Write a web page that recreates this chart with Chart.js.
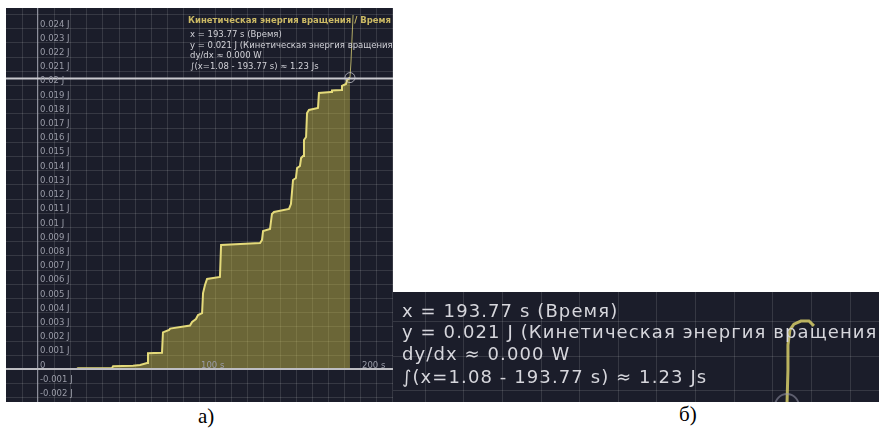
<!DOCTYPE html>
<html lang="ru">
<head>
<meta charset="utf-8">
<title>Кинетическая энергия вращения / Время</title>
<script src="https://cdn.jsdelivr.net/npm/chart.js@4.4.1/dist/chart.umd.min.js"></script>
<style>
  html, body { margin: 0; padding: 0; background: #fff; }
  body { position: relative; width: 879px; height: 430px; overflow: hidden; }
  canvas { position: absolute; display: block; }
  #plotA { left: 6px; top: 8px; }
  #plotB { left: 393px; top: 292px; }
  .cap { position: absolute; font-family: "Liberation Serif", "Times New Roman", serif;
         font-size: 21px; color: #000; line-height: 1; }
</style>
</head>
<body>
<canvas id="plotA" width="387" height="394"></canvas>
<canvas id="plotB" width="486" height="110"></canvas>
<div class="cap" style="left:198px; top:406px;">а)</div>
<div class="cap" style="left:679px; top:404px;">б)</div>
<script>
// Rotational kinetic energy over time, recorded up to the cursor
const timeS = [1.08, 24.2, 24.8, 46.0, 46.6, 59.0, 63.4, 67.7, 68.3, 77.0, 77.6, 81.4, 82.0,
  94.4, 95.7, 98.1, 99.4, 101.9, 102.5, 103.7, 105.0, 113.0, 113.7, 137.9, 139.1, 139.8,
  144.1, 145.3, 146.6, 155.9, 157.1, 158.4, 160.2, 160.9, 162.7, 163.4, 164.6, 165.2, 166.5,
  167.1, 168.3, 173.9, 174.5, 182.0, 182.6, 188.2, 188.8, 191.3, 191.9, 193.77];
const energyJ = [0.00001, 0.00001, 0.00005, 0.00007, 0.00019, 0.00023, 0.00028, 0.00042,
  0.00111, 0.00114, 0.00258, 0.00275, 0.00285, 0.00306, 0.00331, 0.00352, 0.00380, 0.00394,
  0.00535, 0.00592, 0.00634, 0.00648, 0.00873, 0.00887, 0.00908, 0.00972, 0.00986, 0.01092,
  0.01106, 0.01127, 0.01162, 0.01331, 0.01345, 0.01415, 0.01430, 0.01486, 0.01500, 0.01613,
  0.01634, 0.01803, 0.01824, 0.01838, 0.01944, 0.01951, 0.01961, 0.01965, 0.01993, 0.02007,
  0.02035, 0.02052];

// Trace continuing past the cursor
const tailTimeS = [193.77, 194.4, 195.0, 195.7];
const tailEnergyJ = [0.02052, 0.02162, 0.02317, 0.02493];

// Enlarged readout: trace right at the cursor
const insetTimeS = [193.77, 194.03, 194.03, 194.55, 195.58, 197.39, 199.46, 200.76];
const insetEnergyJ = [0.02052, 0.02158, 0.02231, 0.02275, 0.02292, 0.02301, 0.02301, 0.02287];

const cursorTime = 193.77;
const cursorEnergy = 0.02052;

const yTickValues = [-0.002, -0.001, 0, 0.001, 0.002, 0.003, 0.004, 0.005, 0.006, 0.007, 0.008,
  0.009, 0.010, 0.011, 0.012, 0.013, 0.014, 0.015, 0.016, 0.017, 0.018, 0.019, 0.020, 0.021,
  0.022, 0.023, 0.024];
const yTickLabels = ['-0.002 J', '-0.001 J', '0', '0.001 J', '0.002 J', '0.003 J', '0.004 J',
  '0.005 J', '0.006 J', '0.007 J', '0.008 J', '0.009 J', '0.01 J', '0.011 J', '0.012 J',
  '0.013 J', '0.014 J', '0.015 J', '0.016 J', '0.017 J', '0.018 J', '0.019 J', '0.02 J',
  '0.021 J', '0.022 J', '0.023 J', '0.024 J'];
const xTickValues = [100, 200];
const xTickLabels = ['100 s', '200 s'];

const titleText = 'Кинетическая энергия вращения / Время';
const readoutLines = [
  'x = 193.77 s (Время)',
  'y = 0.021 J (Кинетическая энергия вращения)',
  'dy/dx ≈ 0.000 W',
  '∫(x=1.08 - 193.77 s) ≈ 1.23 Js'
];

const FONT = '"DejaVu Sans", Verdana, sans-serif';
const BG = '#1b1d2a';
const GRID = 'rgba(255,255,255,0.12)';
const TRACE = '#e4da7a';
const FILL = 'rgba(206,194,72,0.45)';

const pts = (xs, ys) => xs.map((x, i) => ({ x, y: ys[i] }));

// Dark backdrop with a 10 s / 1 mJ grid
const backdrop = {
  id: 'backdrop',
  beforeDatasetsDraw(chart) {
    const { ctx, width, height, scales: { x, y } } = chart;
    ctx.save();
    ctx.fillStyle = BG;
    ctx.fillRect(0, 0, width, height);
    ctx.strokeStyle = GRID;
    ctx.lineWidth = 1;
    ctx.beginPath();
    for (let t = Math.ceil(x.min / 10) * 10; t <= x.max; t += 10) {
      const px = Math.round(x.getPixelForValue(t)) + 0.5;
      ctx.moveTo(px, 0); ctx.lineTo(px, height);
    }
    for (let k = Math.ceil(y.min * 1000); k <= y.max * 1000; k++) {
      const py = Math.round(y.getPixelForValue(k / 1000)) + 0.5;
      ctx.moveTo(0, py); ctx.lineTo(width, py);
    }
    ctx.stroke();
    ctx.restore();
  }
};

// Axes, cursor, tick labels and readout of the main plot
const overlayA = {
  id: 'overlayA',
  afterDatasetsDraw(chart) {
    const { ctx, width, height, scales: { x, y } } = chart;
    const x0 = x.getPixelForValue(0), y0 = y.getPixelForValue(0);
    const cx = x.getPixelForValue(cursorTime), cy = y.getPixelForValue(cursorEnergy);
    ctx.save();
    // y axis
    ctx.strokeStyle = 'rgba(170,172,185,0.8)';
    ctx.lineWidth = 1;
    ctx.beginPath(); ctx.moveTo(Math.round(x0) - 0.5, 0); ctx.lineTo(Math.round(x0) - 0.5, height); ctx.stroke();
    // x axis
    ctx.strokeStyle = '#bdbdc2';
    ctx.lineWidth = 2;
    ctx.beginPath(); ctx.moveTo(0, y0); ctx.lineTo(width, y0); ctx.stroke();
    // cursor level
    ctx.strokeStyle = '#c9c9ce';
    ctx.beginPath(); ctx.moveTo(0, cy + 1); ctx.lineTo(width, cy + 1); ctx.stroke();
    // cursor ring
    ctx.strokeStyle = 'rgba(200,200,210,0.75)';
    ctx.lineWidth = 1;
    ctx.beginPath(); ctx.arc(cx, cy, 5, 0, Math.PI * 2); ctx.stroke();

    // tick labels
    ctx.font = '8.5px ' + FONT;
    ctx.fillStyle = '#9a9ca8';
    ctx.textAlign = 'left';
    ctx.textBaseline = 'alphabetic';
    yTickValues.forEach((v, i) => {
      ctx.fillText(yTickLabels[i], x0 + 2, y.getPixelForValue(v) - 1.5);
    });
    xTickValues.forEach((v, i) => {
      ctx.fillText(xTickLabels[i], x.getPixelForValue(v) + 2, y0 - 1.5);
    });

    // plot title
    ctx.font = 'bold 8.5px ' + FONT;
    ctx.fillStyle = '#cbb964';
    ctx.textAlign = 'right';
    ctx.fillText(titleText, width - 2, 14.5);

    // cursor readout
    ctx.font = '8.5px ' + FONT;
    ctx.fillStyle = '#d2d2d8';
    ctx.textAlign = 'left';
    readoutLines.forEach((s, i) => ctx.fillText(s, 184, 29 + i * 10.5));
    ctx.restore();
  }
};

// Enlarged readout panel
const overlayB = {
  id: 'overlayB',
  afterDatasetsDraw(chart) {
    const { ctx, width, height, scales: { x, y } } = chart;
    const cx = x.getPixelForValue(cursorTime), cy = y.getPixelForValue(cursorEnergy);
    ctx.save();
    ctx.strokeStyle = 'rgba(150,150,168,0.55)';
    ctx.lineWidth = 2;
    ctx.beginPath(); ctx.arc(cx, cy, 12, 0, Math.PI * 2); ctx.stroke();
    ctx.font = '18px ' + FONT;
    ctx.letterSpacing = '1.1px';
    ctx.fillStyle = '#d6d6dc';
    ctx.textAlign = 'left';
    ctx.textBaseline = 'alphabetic';
    const base = [25, 46, 68, 91];
    readoutLines.forEach((s, i) => ctx.fillText(s, 9, base[i]));
    ctx.restore();
  }
};

const common = {
  responsive: false,
  animation: false,
  events: [],
  layout: { padding: 0 },
  plugins: { legend: { display: false }, tooltip: { enabled: false } },
  elements: { point: { radius: 0 }, line: { tension: 0 } }
};

new Chart(document.getElementById('plotA'), {
  type: 'line',
  data: {
    datasets: [
      { data: pts(timeS, energyJ), borderColor: TRACE, borderWidth: 2,
        backgroundColor: FILL, fill: 'origin' },
      { data: pts(tailTimeS, tailEnergyJ), borderColor: 'rgba(226,216,120,0.75)',
        borderWidth: 1, fill: false }
    ]
  },
  options: Object.assign({}, common, {
    scales: {
      x: { type: 'linear', display: false, min: -19.9, max: 220.5 },
      y: { type: 'linear', display: false, min: -0.00232, max: 0.02542 }
    }
  }),
  plugins: [backdrop, overlayA]
});

new Chart(document.getElementById('plotB'), {
  type: 'line',
  data: {
    datasets: [
      { data: pts(timeS, energyJ), borderColor: TRACE, borderWidth: 4,
        backgroundColor: FILL, fill: 'origin' },
      { data: pts(insetTimeS, insetEnergyJ), borderColor: 'rgba(214,204,104,0.85)',
        borderWidth: 3, fill: false }
    ]
  },
  options: Object.assign({}, common, {
    scales: {
      x: { type: 'linear', display: false, min: 91.8, max: 217.6 },
      y: { type: 'linear', display: false, min: 0.02064, max: 0.02386 }
    }
  }),
  plugins: [backdrop, overlayB]
});
</script>
</body>
</html>
